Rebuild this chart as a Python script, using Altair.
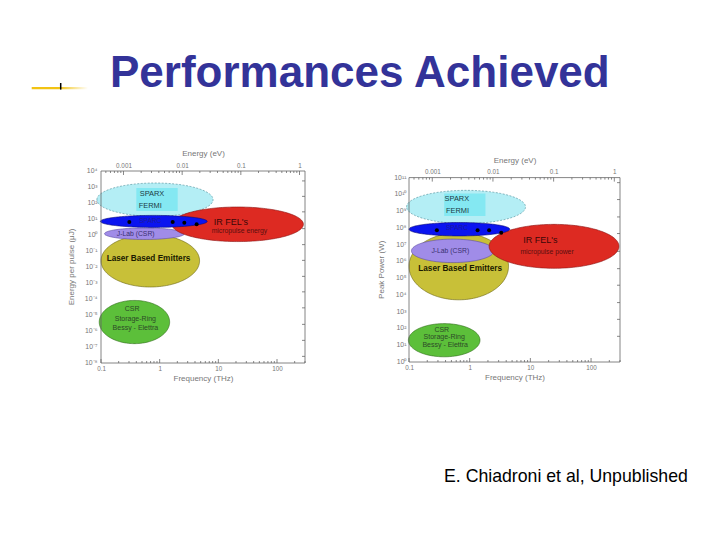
import json
import numpy as np
import pandas as pd
import altair as alt

# ---------------- text ----------------
TITLE = "Performances Achieved"
FOOTNOTE = "E. Chiadroni et al, Unpublished"
EV_TO_THZ = 241.8  # 1 eV photon = 241.8 THz

# ---------------- shared x axis data ----------------
X_DOMAIN = [0.1, 300]
X_MAJOR = [0.1, 1, 10, 100]
X_MAJOR_LABELS = ["0.1", "1", "10", "100"]
X_MINOR = [0.2, 0.3, 0.4, 0.5, 0.6, 0.7, 0.8, 0.9,
           2, 3, 4, 5, 6, 7, 8, 9,
           20, 30, 40, 50, 60, 70, 80, 90,
           200, 300]
TOP_MAJOR_EV = [0.001, 0.01, 0.1, 1]
TOP_LABELS = ["0.001", "0.01", "0.1", "1"]
TOP_MINOR_EV = [0.0005, 0.0006, 0.0007, 0.0008, 0.0009,
                0.002, 0.003, 0.004, 0.005, 0.006, 0.007, 0.008, 0.009,
                0.02, 0.03, 0.04, 0.05, 0.06, 0.07, 0.08, 0.09,
                0.2, 0.3, 0.4, 0.5, 0.6, 0.7, 0.8, 0.9]

# ---------------- left panel: energy per pulse ----------------
L_Y_TITLE = "Energy per pulse (μJ)"
L_Y_DOMAIN = [1e-8, 1e4]
L_Y_TICKS = [1e4, 1e3, 1e2, 1e1, 1e0, 1e-1, 1e-2, 1e-3, 1e-4, 1e-5, 1e-6, 1e-7, 1e-8]
L_Y_LABELS = ["10⁴", "10³", "10²", "10¹", "10⁰", "10⁻¹", "10⁻²", "10⁻³",
              "10⁻⁴", "10⁻⁵", "10⁻⁶", "10⁻⁷", "10⁻⁸"]
L_RIGHT_TICKS = [2.4e3, 2.6e2, 2.8e1, 2.5, 2.5e-1, 2.6e-2, 2.6e-3, 2.8e-4,
                 2.8e-5, 2.6e-6, 2.6e-7, 2.6e-8]
# ellipses (log10 centre, half-axes in decades), in drawing order
ELL_NAMES = ["SPARX-FERMI", "Laser", "J-Lab", "IR FEL", "SPARC", "CSR"]
L_CX = [-0.08, -0.16, -0.26, 1.33, -0.10, -0.43]
L_CY = [2.21, -1.61, 0.08, 0.67, 0.85, -5.44]
L_RX = [0.99, 0.84, 0.68, 1.12, 0.91, 0.60]
L_RY = [1.04, 1.64, 0.36, 1.08, 0.375, 1.35]
L_RECT = [0.40, 2.03, 871, 31.6]          # x1, x2 (THz), y1, y2 (uJ)
L_DOT_X = [0.304, 1.667, 2.63, 4.27]
L_DOT_Y = [6.46, 6.46, 5.89, 4.68]
LABELS = ["SPARX", "FERMI", "SPARC", "IR FEL's", "micropulse energy", "J-Lab  (CSR)",
          "Laser Based Emitters", "CSR", "Storage-Ring", "Bessy - Elettra"]
L_TX = [0.741, 0.69, 0.69, 16.4, 22.9, 0.39, 0.646, 0.339, 0.385, 0.385]
L_TY = [380, 64.6, 7.1, 6.5, 1.86, 1.21, 0.033, 2.5e-5, 5.9e-6, 1.6e-6]

# ---------------- right panel: peak power ----------------
R_Y_TITLE = "Peak Power (W)"
R_Y_DOMAIN = [1, 1e11]
R_Y_TICKS = [1e11, 1e10, 1e9, 1e8, 1e7, 1e6, 1e5, 1e4, 1e3, 1e2, 1e1, 1e0]
R_Y_LABELS = ["10¹¹", "10¹⁰", "10⁹", "10⁸", "10⁷", "10⁶", "10⁵", "10⁴",
              "10³", "10²", "10¹", "10⁰"]
R_RIGHT_TICKS = [5.0e10, 4.9e9, 4.5e8, 4.6e7, 4.0e6, 3.7e5, 3.8e4, 3.5e3, 3.5e2, 3.4e1]
R_CX = [-0.06, -0.18, -0.28, 1.39, -0.17, -0.42]
R_CY = [9.25, 5.71, 6.63, 6.90, 7.92, 1.30]
R_RX = [0.98, 0.82, 0.68, 1.07, 0.83, 0.59]
R_RY = [0.99, 2.00, 0.70, 1.31, 0.40, 0.99]
R_RECT = [0.38, 1.82, 1.12e10, 5.1e8]
R_DOT_X = [0.288, 1.35, 2.09, 3.31]
R_DOT_Y = [7.2e7, 7.2e7, 7.2e7, 5.2e7]
R_LABELS = ["SPARX", "FERMI", "SPARC", "IR FEL's", "micropulse power", "J-Lab  (CSR)",
            "Laser Based Emitters", "CSR", "Storage-Ring", "Bessy - Elettra"]
R_TX = [0.614, 0.631, 0.617, 14.6, 18.8, 0.479, 0.697, 0.347, 0.380, 0.394]
R_TY = [5.6e9, 1.02e9, 1.0e8, 1.8e7, 3.7e6, 4.3e6, 3.5e5, 85, 32, 11]

# ---------------- styles / layout ----------------
ELL_FILL = ["#b4eef5", "#c8c038", "#a08ce8", "#dd2a22", "#0a14f0", "#5cbf3a"]
ELL_STROKE = ["#4a8a96", "#6a6414", "#5a4aa0", "#8a1212", "#0a0a70", "#2e6a18"]
RECT_FILL = "#84e8f2"
TEXT_STYLE = [  # size, colour, weight
    (7.4, "#1d3b44", "normal"), (7.4, "#1d3b44", "normal"), (6.5, "#1c1c9a", "normal"),
    (9.0, "#3a0808", "normal"), (6.8, "#5a1010", "normal"), (6.8, "#3a3070", "normal"),
    (8.2, "#1a1a00", "bold"), (7.0, "#2c4a28", "normal"), (7.0, "#2c4a28", "normal"),
    (7.0, "#2c4a28", "normal"),
]
AXIS_GREY = "#777777"
TICK_GREY = "#555555"
FRAME = "#666666"
FONT = "Liberation Sans"
# pixel boxes of the two panels inside the drawing (x0, x1, ytop, ybottom)
L_BOX = (0, 204, 0, 192)
R_BOX = (308, 519, 6.6, 191)
TOTAL_W, TOTAL_H = 519, 192


def ellipse_df(cx, cy, rx, ry, n=90):
    t = np.linspace(np.pi, 0, n)
    return pd.DataFrame({
        "x": 10 ** (cx + rx * np.cos(t)),
        "y": 10 ** (cy + ry * np.sin(t)),
        "y2": 10 ** (cy - ry * np.sin(t)),
    })


def panel(box, y_domain, y_ticks, y_labels, y_title, right_ticks,
          cx, cy, rx, ry, rect, dot_x, dot_y, labels, tx, ty,
          ytitle_x, label_gap, extra=()):
    x0, x1, yt, yb = box
    xs = alt.Scale(type="log", domain=X_DOMAIN, nice=False, range=[x0, x1])
    ys = alt.Scale(type="log", domain=y_domain, nice=False, range=[yb, yt])
    layers = []
    for i in range(len(cx)):
        d = ellipse_df(cx[i], cy[i], rx[i], ry[i])
        m = alt.Chart(d).mark_area(
            fill=ELL_FILL[i], stroke=ELL_STROKE[i], strokeWidth=0.6, opacity=1,
            **({"strokeDash": [2, 1.5]} if i == 0 else {}))
        layers.append(m.encode(
            x=alt.X("x:Q", scale=xs, axis=None),
            y=alt.Y("y:Q", scale=ys, axis=None),
            y2="y2:Q"))
        if i == 0:
            rd = pd.DataFrame({"x1": [rect[0]], "x2": [rect[1]], "y1": [rect[2]], "y2": [rect[3]]})
            layers.append(alt.Chart(rd).mark_rect(fill=RECT_FILL).encode(
                x=alt.X("x1:Q", scale=xs, axis=None), x2="x2:Q",
                y=alt.Y("y1:Q", scale=ys, axis=None), y2="y2:Q"))
    dd = pd.DataFrame({"x": dot_x, "y": dot_y})
    layers.append(alt.Chart(dd).mark_circle(color="#000000", size=16, opacity=1).encode(
        x=alt.X("x:Q", scale=xs, axis=None), y=alt.Y("y:Q", scale=ys, axis=None)))
    for i, lab in enumerate(labels):
        size, col, wt = TEXT_STYLE[i]
        td = pd.DataFrame({"x": [tx[i]], "y": [ty[i]], "t": [lab]})
        layers.append(alt.Chart(td).mark_text(
            fontSize=size, color=col, fontWeight=wt, font=FONT, align="center",
            baseline="middle").encode(
            x=alt.X("x:Q", scale=xs, axis=None), y=alt.Y("y:Q", scale=ys, axis=None),
            text="t:N"))

    common = dict(ticks=False, domain=False, grid=False, labelFlush=False,
                  labelOverlap=False, labelFontSize=6.3, labelColor=AXIS_GREY,
                  labelFont=FONT, titleFont=FONT, titleFontSize=8,
                  titleColor=AXIS_GREY, titleFontWeight="normal")
    bottom_axis = alt.Axis(
        orient="bottom", values=X_MAJOR, offset=yb - TOTAL_H,
        labelExpr=json.dumps(X_MAJOR_LABELS) + "[round(log(datum.value)/LN10)+1]",
        labelPadding=2, title="Frequency (THz)", titlePadding=3.5, **common)
    top_axis = alt.Axis(
        orient="top", values=[v * EV_TO_THZ for v in TOP_MAJOR_EV], offset=-yt,
        labelExpr=json.dumps(TOP_LABELS) + "[round(log(datum.value/%s)/LN10)+3]" % EV_TO_THZ,
        labelPadding=3, title="Energy (eV)", titlePadding=4.4, **common)

    def tick_rule(vals, axis, y0, y1):
        return alt.Chart(pd.DataFrame({"v": vals})).mark_rule(
            color=TICK_GREY, strokeWidth=0.7).encode(
            x=alt.X("v:Q", scale=xs, axis=axis), y=alt.value(y0), y2=alt.value(y1))

    layers.append(tick_rule(X_MAJOR, bottom_axis, yb, yb - 4))
    layers.append(tick_rule(X_MINOR, None, yb, yb - 2))
    layers.append(tick_rule([v * EV_TO_THZ for v in TOP_MAJOR_EV], top_axis, yt, yt + 4))
    layers.append(tick_rule([v * EV_TO_THZ for v in TOP_MINOR_EV], None, yt, yt + 2))
    layers.append(alt.Chart(pd.DataFrame({"v": right_ticks})).mark_rule(
        color=TICK_GREY, strokeWidth=0.7).encode(
        y=alt.Y("v:Q", scale=ys, axis=None), x=alt.value(x1), x2=alt.value(x1 - 3)))
    # y tick labels placed through the y scale
    yl = pd.DataFrame({"v": y_ticks, "t": y_labels})
    layers.append(alt.Chart(yl).mark_text(
        font=FONT, fontSize=6.9, color=AXIS_GREY, align="right", baseline="middle").encode(
        y=alt.Y("v:Q", scale=ys, axis=None), x=alt.value(x0 - label_gap), text="t:N"))
    # y title
    layers.append(alt.Chart(pd.DataFrame({"t": [y_title]})).mark_text(
        font=FONT, fontSize=8, color=AXIS_GREY, angle=270, align="center",
        baseline="middle").encode(
        x=alt.value(ytitle_x), y=alt.value((yt + yb) / 2), text="t:N"))
    # frame along the scale domain
    fd = pd.DataFrame({"x1": [X_DOMAIN[0]], "x2": [X_DOMAIN[1]],
                       "y1": [y_domain[0]], "y2": [y_domain[1]]})
    layers.append(alt.Chart(fd).mark_rect(
        fillOpacity=0, stroke=FRAME, strokeWidth=0.8).encode(
        x=alt.X("x1:Q", scale=xs, axis=None), x2="x2:Q",
        y=alt.Y("y1:Q", scale=ys, axis=None), y2="y2:Q"))
    layers.extend(extra)
    return alt.layer(*layers)


one = pd.DataFrame({"t": [TITLE]})
title_mark = alt.Chart(one).mark_text(
    font=FONT, fontSize=44, fontWeight="bold", color="#333399",
    align="left", baseline="alphabetic").encode(
    text="t:N", x=alt.value(9), y=alt.value(-83.7))
bullet_bar = alt.Chart(one).mark_rect(
    fill=alt.Gradient(gradient="linear", x1=0, x2=1, y1=0, y2=0,
                      stops=[alt.GradientStop(color="#f2c313", offset=0),
                             alt.GradientStop(color="#f2c313", offset=0.47),
                             alt.GradientStop(color="#ffffff", offset=1)])).encode(
    x=alt.value(-69.3), x2=alt.value(-13), y=alt.value(-84), y2=alt.value(-81.8))
bullet_tick = alt.Chart(one).mark_rule(color="#000000", strokeWidth=1.5).encode(
    x=alt.value(-40.3), y=alt.value(-88), y2=alt.value(-81.4))
anchor = alt.Chart(one).mark_rule(opacity=0, strokeWidth=1).encode(
    x=alt.value(-92.5), x2=alt.value(-91.5), y=alt.value(-162.2))
foot = alt.Chart(pd.DataFrame({"t": [FOOTNOTE]})).mark_text(
    font=FONT, fontSize=17.7, color="#000000", align="left", baseline="alphabetic").encode(
    text="t:N", x=alt.value(343), y=alt.value(311.3))

left = panel(L_BOX, L_Y_DOMAIN, L_Y_TICKS, L_Y_LABELS, L_Y_TITLE,
             L_RIGHT_TICKS, L_CX, L_CY, L_RX, L_RY, L_RECT, L_DOT_X, L_DOT_Y,
             LABELS, L_TX, L_TY, -29, 3.5,
             extra=(anchor, bullet_bar, bullet_tick, title_mark, foot))

right = panel(R_BOX, R_Y_DOMAIN, R_Y_TICKS, R_Y_LABELS, R_Y_TITLE,
              R_RIGHT_TICKS, R_CX, R_CY, R_RX, R_RY, R_RECT, R_DOT_X, R_DOT_Y,
              R_LABELS, R_TX, R_TY, 280.7, 2.5)

chart = alt.layer(left, right).resolve_scale(
    x="independent", y="independent").resolve_axis(
    x="independent", y="independent").properties(
    width=TOTAL_W, height=TOTAL_H, padding=0, background="white").configure_view(
    stroke="transparent")

chart.save("out.html", embed_options={"renderer": "svg", "actions": False})
